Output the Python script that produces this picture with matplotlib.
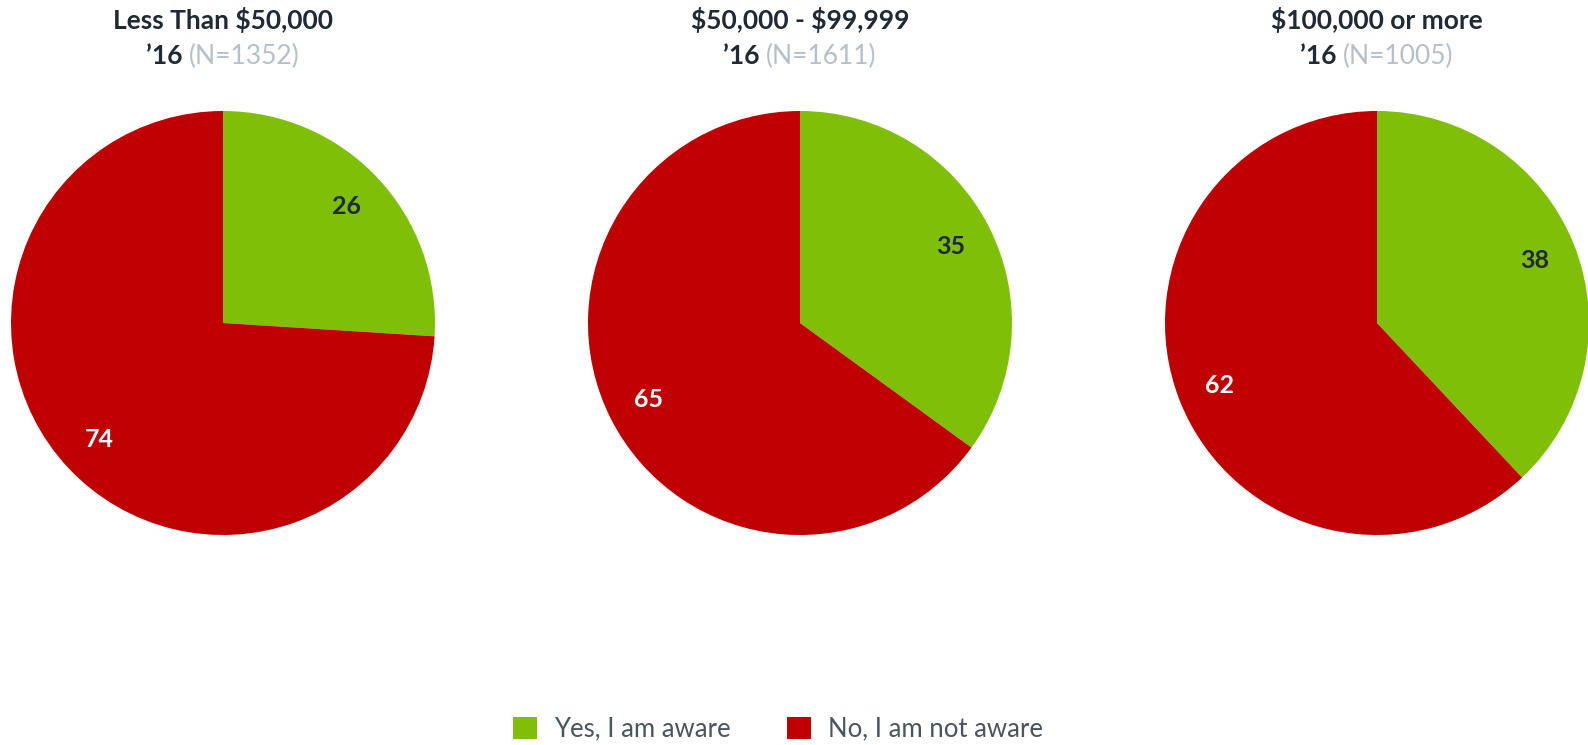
import matplotlib.pyplot as plt
from matplotlib.patches import Patch

# data
titles = ['Less Than \\$50,000', '\\$50,000 - \\$99,999', '\\$100,000 or more']
years = ['\u201916', '\u201916', '\u201916']
sample_n = [1352, 1611, 1005]
aware_yes = [26, 35, 38]
aware_no = [74, 65, 62]
legend_labels = ['Yes, I am aware', 'No, I am not aware']

GREEN = '#7fbf07'
RED = '#c00000'
DARK = '#1f2a36'
GREY = '#b4c0cc'

plt.rcParams['font.family'] = ['Lato', 'DejaVu Sans']

W, H = 1588, 745
fig = plt.figure(figsize=(W / 100, H / 100), dpi=100)

centers_x = [223, 800, 1377]
center_y = 323
radius = 212
pad = 1.05

for i in range(3):
    half = radius * pad
    ax = fig.add_axes([(centers_x[i] - half) / W, (H - center_y - half) / H,
                       2 * half / W, 2 * half / H])
    wedges, texts = ax.pie([aware_yes[i], aware_no[i]], colors=[GREEN, RED],
                           startangle=90, counterclock=False, radius=1,
                           labels=[str(aware_yes[i]), str(aware_no[i])],
                           labeldistance=0.8,
                           textprops=dict(fontsize=18, fontweight='bold'),
                           wedgeprops=dict(linewidth=0))
    for t, c in zip(texts, [DARK, 'white']):
        t.set_color(c)
        t.set_ha('center')
        t.set_va('center')
    ax.set_xlim(-pad, pad)
    ax.set_ylim(-pad, pad)
    ax.set_aspect('equal')
    ax.axis('off')

    cx = centers_x[i] / W
    fig.text(cx, 1 - 20 / H, titles[i], ha='center', va='center',
             fontsize=19, fontweight='bold', color=DARK)
    # second line: bold year + grey N
    t1 = fig.text(cx, 1 - 56 / H, years[i] + ' ', ha='right', va='center',
                  fontsize=19, fontweight='bold', color=DARK)
    t2 = fig.text(cx, 1 - 56 / H, '(N=%d)' % sample_n[i], ha='left', va='center',
                  fontsize=19, color=GREY)
    fig.canvas.draw()
    w1 = t1.get_window_extent().width
    w2 = t2.get_window_extent().width
    shift = (w1 - w2) / 2 / W
    t1.set_x(cx + shift)
    t2.set_x(cx + shift)

handles = [Patch(facecolor=GREEN), Patch(facecolor=RED)]
fig.legend(handles, legend_labels, loc='center', bbox_to_anchor=(0.49, 1 - 729 / H),
           ncol=2, frameon=False, fontsize=18.5, handlelength=0.93, handleheight=0.93,
           handletextpad=0.66, columnspacing=2.2, labelcolor='#4a5560',
           borderpad=0.2)

fig.savefig('out.png', dpi=100)
